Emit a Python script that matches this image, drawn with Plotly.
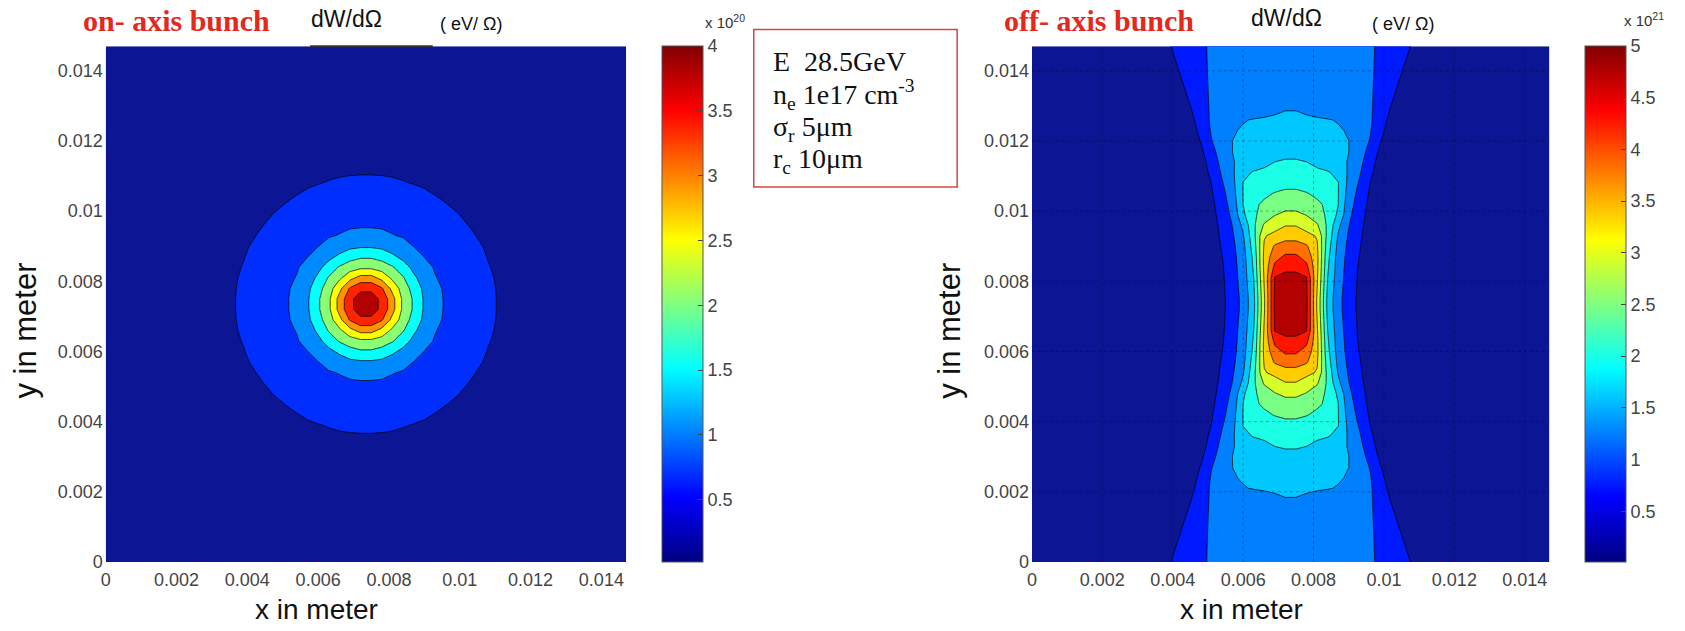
import numpy as np
import plotly.graph_objects as go

W, H = 1685, 631

# ---------------- shared axis data ----------------
tick_vals = [0, 0.002, 0.004, 0.006, 0.008, 0.01, 0.012, 0.014]
tick_text = ["0", "0.002", "0.004", "0.006", "0.008", "0.01", "0.012", "0.014"]
axis_max = 0.0147
grid_pos = [round(i * 0.0003, 4) for i in range(50)]   # sample positions (m)
centre = 0.00735                                        # beam centre (m)

# ---------------- on-axis bunch  (units 1e20 eV/sr) ----------------
on_levels = [0.45, 0.9, 1.35, 1.8, 2.25, 2.7, 3.15, 3.6]
on_radius_mm = [3.65, 2.11, 1.59, 1.32, 0.99, 0.82, 0.66, 0.42]
on_peak = 4.0
on_tail_r_mm = [5.2, 10.5]
on_tail_z = [0.2, 0.05]
on_cbar_range = [0.02, 4.0]
on_cbar_ticks = [0.5, 1, 1.5, 2, 2.5, 3, 3.5, 4]
on_band_t = [0.05, 0.17, 0.26, 0.38, 0.51, 0.62, 0.73, 0.84, 0.95]

# ---------------- off-axis bunch (units 1e21 eV/sr) ----------------
off_levels = [0.45, 0.9, 1.35, 1.8, 2.25, 2.7, 3.15, 3.6, 4.05, 4.5]
# half-width (mm) of each contour versus |y - centre| (mm)
off_L1 = [[0, 1.85], [1, 1.9], [2, 2.03], [3.6, 2.28], [5.5, 2.8], [7.5, 3.45]]
off_L2 = [[0, 1.42], [1.5, 1.52], [3, 1.8], [4.5, 2.2], [5.5, 2.45], [7.5, 2.5]]
off_L3 = [[0, 1.15], [1.5, 1.25], [3, 1.5], [4.5, 1.68], [5.0, 1.6], [5.42, 1.1], [5.56, 0]]
off_L4 = [[0, 1.0], [1.5, 1.1], [2.5, 1.33], [3.5, 1.4], [3.9, 1.2], [4.15, 0]]
off_L5 = [[0, 0.88], [1.2, 0.93], [2.2, 1.0], [2.85, 0.98], [3.1, 0.8], [3.3, 0]]
off_L6 = [[0, 0.8], [1.2, 0.84], [2.2, 0.87], [2.45, 0.75], [2.68, 0]]
off_L7 = [[0, 0.74], [1.2, 0.77], [1.9, 0.78], [2.12, 0.6], [2.28, 0]]
off_L8 = [[0, 0.68], [1.0, 0.7], [1.5, 0.68], [1.75, 0.5], [1.85, 0]]
off_L9 = [[0, 0.62], [0.9, 0.63], [1.25, 0.55], [1.49, 0]]
off_L10 = [[0, 0.55], [0.8, 0.55], [0.95, 0.45], [1.06, 0]]
off_centre_dy_mm = [0, 1.06, 1.49, 1.85, 2.28, 2.68, 3.3, 4.15, 5.56, 7.5]
off_centre_z = [5.0, 4.5, 4.05, 3.6, 3.15, 2.7, 2.25, 1.8, 1.35, 1.1]
off_floor = 0.05
off_cbar_range = [0.01, 5.0]
off_cbar_ticks = [0.5, 1, 1.5, 2, 2.5, 3, 3.5, 4, 4.5, 5]
off_band_t = [0.04, 0.15, 0.25, 0.32, 0.4, 0.495, 0.585, 0.675, 0.765, 0.855, 0.95]

background_colour = "rgb(12,22,148)"   # dark navy outside the lowest contour

# ---------------- layout (pixels) ----------------
left_x = [101, 623]
right_x = [1030, 1549]
plot_top, plot_bottom = 47, 571
cbar_left_x, cbar_right_x = 659, 1585


def jet(t):
    r = min(max(1.5 - abs(4 * t - 3), 0), 1)
    g = min(max(1.5 - abs(4 * t - 2), 0), 1)
    b = min(max(1.5 - abs(4 * t - 1), 0), 1)
    return "rgb(%d,%d,%d)" % (round(r * 255), round(g * 255), round(b * 255))


jet_scale = [[i / 8, jet(i / 8)] for i in range(9)]


def band_scale(ts):
    n = len(ts) - 1
    sc = [[k / n, jet(t)] for k, t in enumerate(ts)]
    sc[0][1] = background_colour
    return sc


g = np.array(grid_pos)
DX, DY = np.meshgrid(np.abs(g - centre) * 1000, np.abs(g - centre) * 1000)

# on-axis field from the read radial profile
R = np.hypot(DX, DY)
rp = [0] + on_radius_mm[::-1] + on_tail_r_mm
zp = [on_peak] + on_levels[::-1] + on_tail_z
Z_on = np.interp(R, rp, zp)

# off-axis field from the read contour half-widths
off_shapes = [off_L1, off_L2, off_L3, off_L4, off_L5, off_L6, off_L7, off_L8, off_L9, off_L10]
Z_off = np.zeros_like(DX)
for iy in range(len(grid_pos)):
    ady = DY[iy, 0]
    zc = float(np.interp(ady, off_centre_dy_mm, off_centre_z))
    ws, zs = [0.0], [zc]
    for lev, shape in sorted(zip(off_levels, off_shapes), key=lambda p: -p[0]):
        w = float(np.interp(ady, [p[0] for p in shape], [p[1] for p in shape]))
        if lev < zc and w > ws[-1] + 1e-6:
            ws.append(w)
            zs.append(lev)
    step = ws[-1] - ws[-2]
    ws.append(ws[-1] + 0.5 * step)
    zs.append(zs[-1] - 0.5 * (zs[-2] - zs[-1]))
    ws.append(9.0)
    zs.append(off_floor)
    Z_off[iy, :] = np.interp(DX[iy, :], ws, zs)

fig = go.Figure()

line_style = dict(color="rgba(0,0,0,0.8)", width=0.9, smoothing=0)

fig.add_trace(go.Contour(
    x=grid_pos, y=grid_pos, z=Z_on, xaxis="x", yaxis="y", autocontour=False,
    contours=dict(start=on_levels[0], end=on_levels[-1],
                  size=on_levels[1] - on_levels[0], coloring="fill", showlines=True),
    line=line_style, colorscale=band_scale(on_band_t), showscale=False,
    hovertemplate="x=%{x}<br>y=%{y}<br>%{z:.2f}e20<extra></extra>"))

fig.add_trace(go.Contour(
    x=grid_pos, y=grid_pos, z=Z_off, xaxis="x2", yaxis="y2", autocontour=False,
    contours=dict(start=off_levels[0], end=off_levels[-1],
                  size=off_levels[1] - off_levels[0], coloring="fill", showlines=True),
    line=line_style, colorscale=band_scale(off_band_t), showscale=False,
    hovertemplate="x=%{x}<br>y=%{y}<br>%{z:.2f}e21<extra></extra>"))

tick_font = dict(family="Liberation Sans, Arial", size=18, color="#444")
cbar_font = dict(family="Liberation Sans, Arial", size=18, color="#444")


def cbar(xpx, ticks):
    return dict(x=xpx / W, xanchor="left", y=1 - plot_bottom / H, yanchor="bottom",
                len=(plot_bottom - plot_top) / H, lenmode="fraction",
                thickness=41, thicknessmode="pixels",
                xpad=0, ypad=0, outlinewidth=1, outlinecolor="#555",
                tickvals=ticks, ticks="inside", ticklen=5, tickcolor="#444",
                tickfont=cbar_font)


fig.add_trace(go.Scatter(
    x=[grid_pos[0]], y=[grid_pos[0]], xaxis="x", yaxis="y", mode="markers",
    marker=dict(color=[on_cbar_range[0]], cmin=on_cbar_range[0], cmax=on_cbar_range[1],
                colorscale=jet_scale, showscale=True, opacity=0, size=1,
                colorbar=cbar(cbar_left_x, on_cbar_ticks)),
    hoverinfo="skip", showlegend=False))

fig.add_trace(go.Scatter(
    x=[grid_pos[0]], y=[grid_pos[0]], xaxis="x2", yaxis="y2", mode="markers",
    marker=dict(color=[off_cbar_range[0]], cmin=off_cbar_range[0], cmax=off_cbar_range[1],
                colorscale=jet_scale, showscale=True, opacity=0, size=1,
                colorbar=cbar(cbar_right_x, off_cbar_ticks)),
    hoverinfo="skip", showlegend=False))

ax_common = dict(range=[0, axis_max], tickvals=tick_vals, ticktext=tick_text,
                 showgrid=False, zeroline=False, ticks="", showline=False,
                 tickfont=tick_font, fixedrange=True)
ydom = [1 - plot_bottom / H, 1 - plot_top / H]

fig.update_layout(
    width=W, height=H, margin=dict(l=0, r=0, t=0, b=0),
    paper_bgcolor="white", plot_bgcolor="white", showlegend=False,
    xaxis=dict(domain=[left_x[0] / W, left_x[1] / W], anchor="y", ticklabelstandoff=5, **ax_common),
    yaxis=dict(domain=ydom, anchor="x", ticklabelstandoff=2, **ax_common),
    xaxis2=dict(domain=[right_x[0] / W, right_x[1] / W], anchor="y2", ticklabelstandoff=5, **ax_common),
    yaxis2=dict(domain=ydom, anchor="x2", ticklabelstandoff=2, **ax_common),
)

shapes = []
# dotted grid over the off-axis map
for v in tick_vals[1:]:
    shapes.append(dict(type="line", xref="x2", yref="y2", x0=v, x1=v, y0=0, y1=axis_max,
                       line=dict(color="rgba(0,0,0,0.3)", width=1, dash="dot"), layer="above"))
    shapes.append(dict(type="line", xref="x2", yref="y2", y0=v, y1=v, x0=0, x1=axis_max,
                       line=dict(color="rgba(0,0,0,0.3)", width=1, dash="dot"), layer="above"))
# parameter box
shapes.append(dict(type="rect", xref="paper", yref="paper",
                   x0=751 / W, x1=955 / W, y0=1 - 190 / H, y1=1 - 30 / H,
                   line=dict(color="rgb(210,70,70)", width=1.5)))
# dark stroke at top of left map
shapes.append(dict(type="line", xref="paper", yref="paper", x0=306 / W, x1=429 / W,
                   y0=1 - plot_top / H, y1=1 - plot_top / H,
                   line=dict(color="#333", width=2), layer="above"))
fig.update_layout(shapes=shapes)


def ann(text, xpx, ypx, size, family="Liberation Sans, Arial", color="#111",
        xanchor="center", textangle=0, yanchor="middle", yshift=0):
    return dict(text=text, x=xpx / W, y=1 - ypx / H, xref="paper", yref="paper",
                showarrow=False, xanchor=xanchor, yanchor=yanchor, textangle=textangle,
                yshift=yshift, font=dict(family=family, size=size, color=color))


serif = "Liberation Serif, Times New Roman"
anns = [
    ann("<b>on- axis bunch</b>", 172, 21, 30, serif, "rgb(228,40,28)"),
    ann("dW/dΩ", 343, 19, 23),
    ann("( eV/ Ω)", 467, 24, 18),
    ann("<b>off- axis bunch</b>", 1097, 21, 30, serif, "rgb(228,40,28)"),
    ann("dW/dΩ", 1285, 18, 23),
    ann("( eV/ Ω)", 1402, 24, 18),
    ann("E  28.5GeV", 768, 62, 28, serif, "#111", "left"),
    ann("n<sub>e</sub> 1e17 cm<sup>-3</sup>", 768, 96, 28, serif, "#111", "left"),
    ann("σ<sub>r</sub> 5μm", 768, 131, 28, serif, "#111", "left"),
    ann("r<sub>c</sub> 10μm", 768, 163, 28, serif, "#111", "left"),
    ann("x 10<sup>20</sup>", 700, 22, 15, color="#333", xanchor="left"),
    ann("x 10<sup>21</sup>", 1622, 20, 15, color="#333", xanchor="left"),
    ann("x in meter", 312, 631, 28, color="#111", yanchor="bottom", yshift=-6),
    ann("x in meter", 1240, 631, 28, color="#111", yanchor="bottom", yshift=-6),
    ann("y in meter", 21, 336, 31, color="#111", textangle=-90),
    ann("y in meter", 947, 336, 31, color="#111", textangle=-90),
]
fig.update_layout(annotations=anns)

fig.write_html("out.html")
